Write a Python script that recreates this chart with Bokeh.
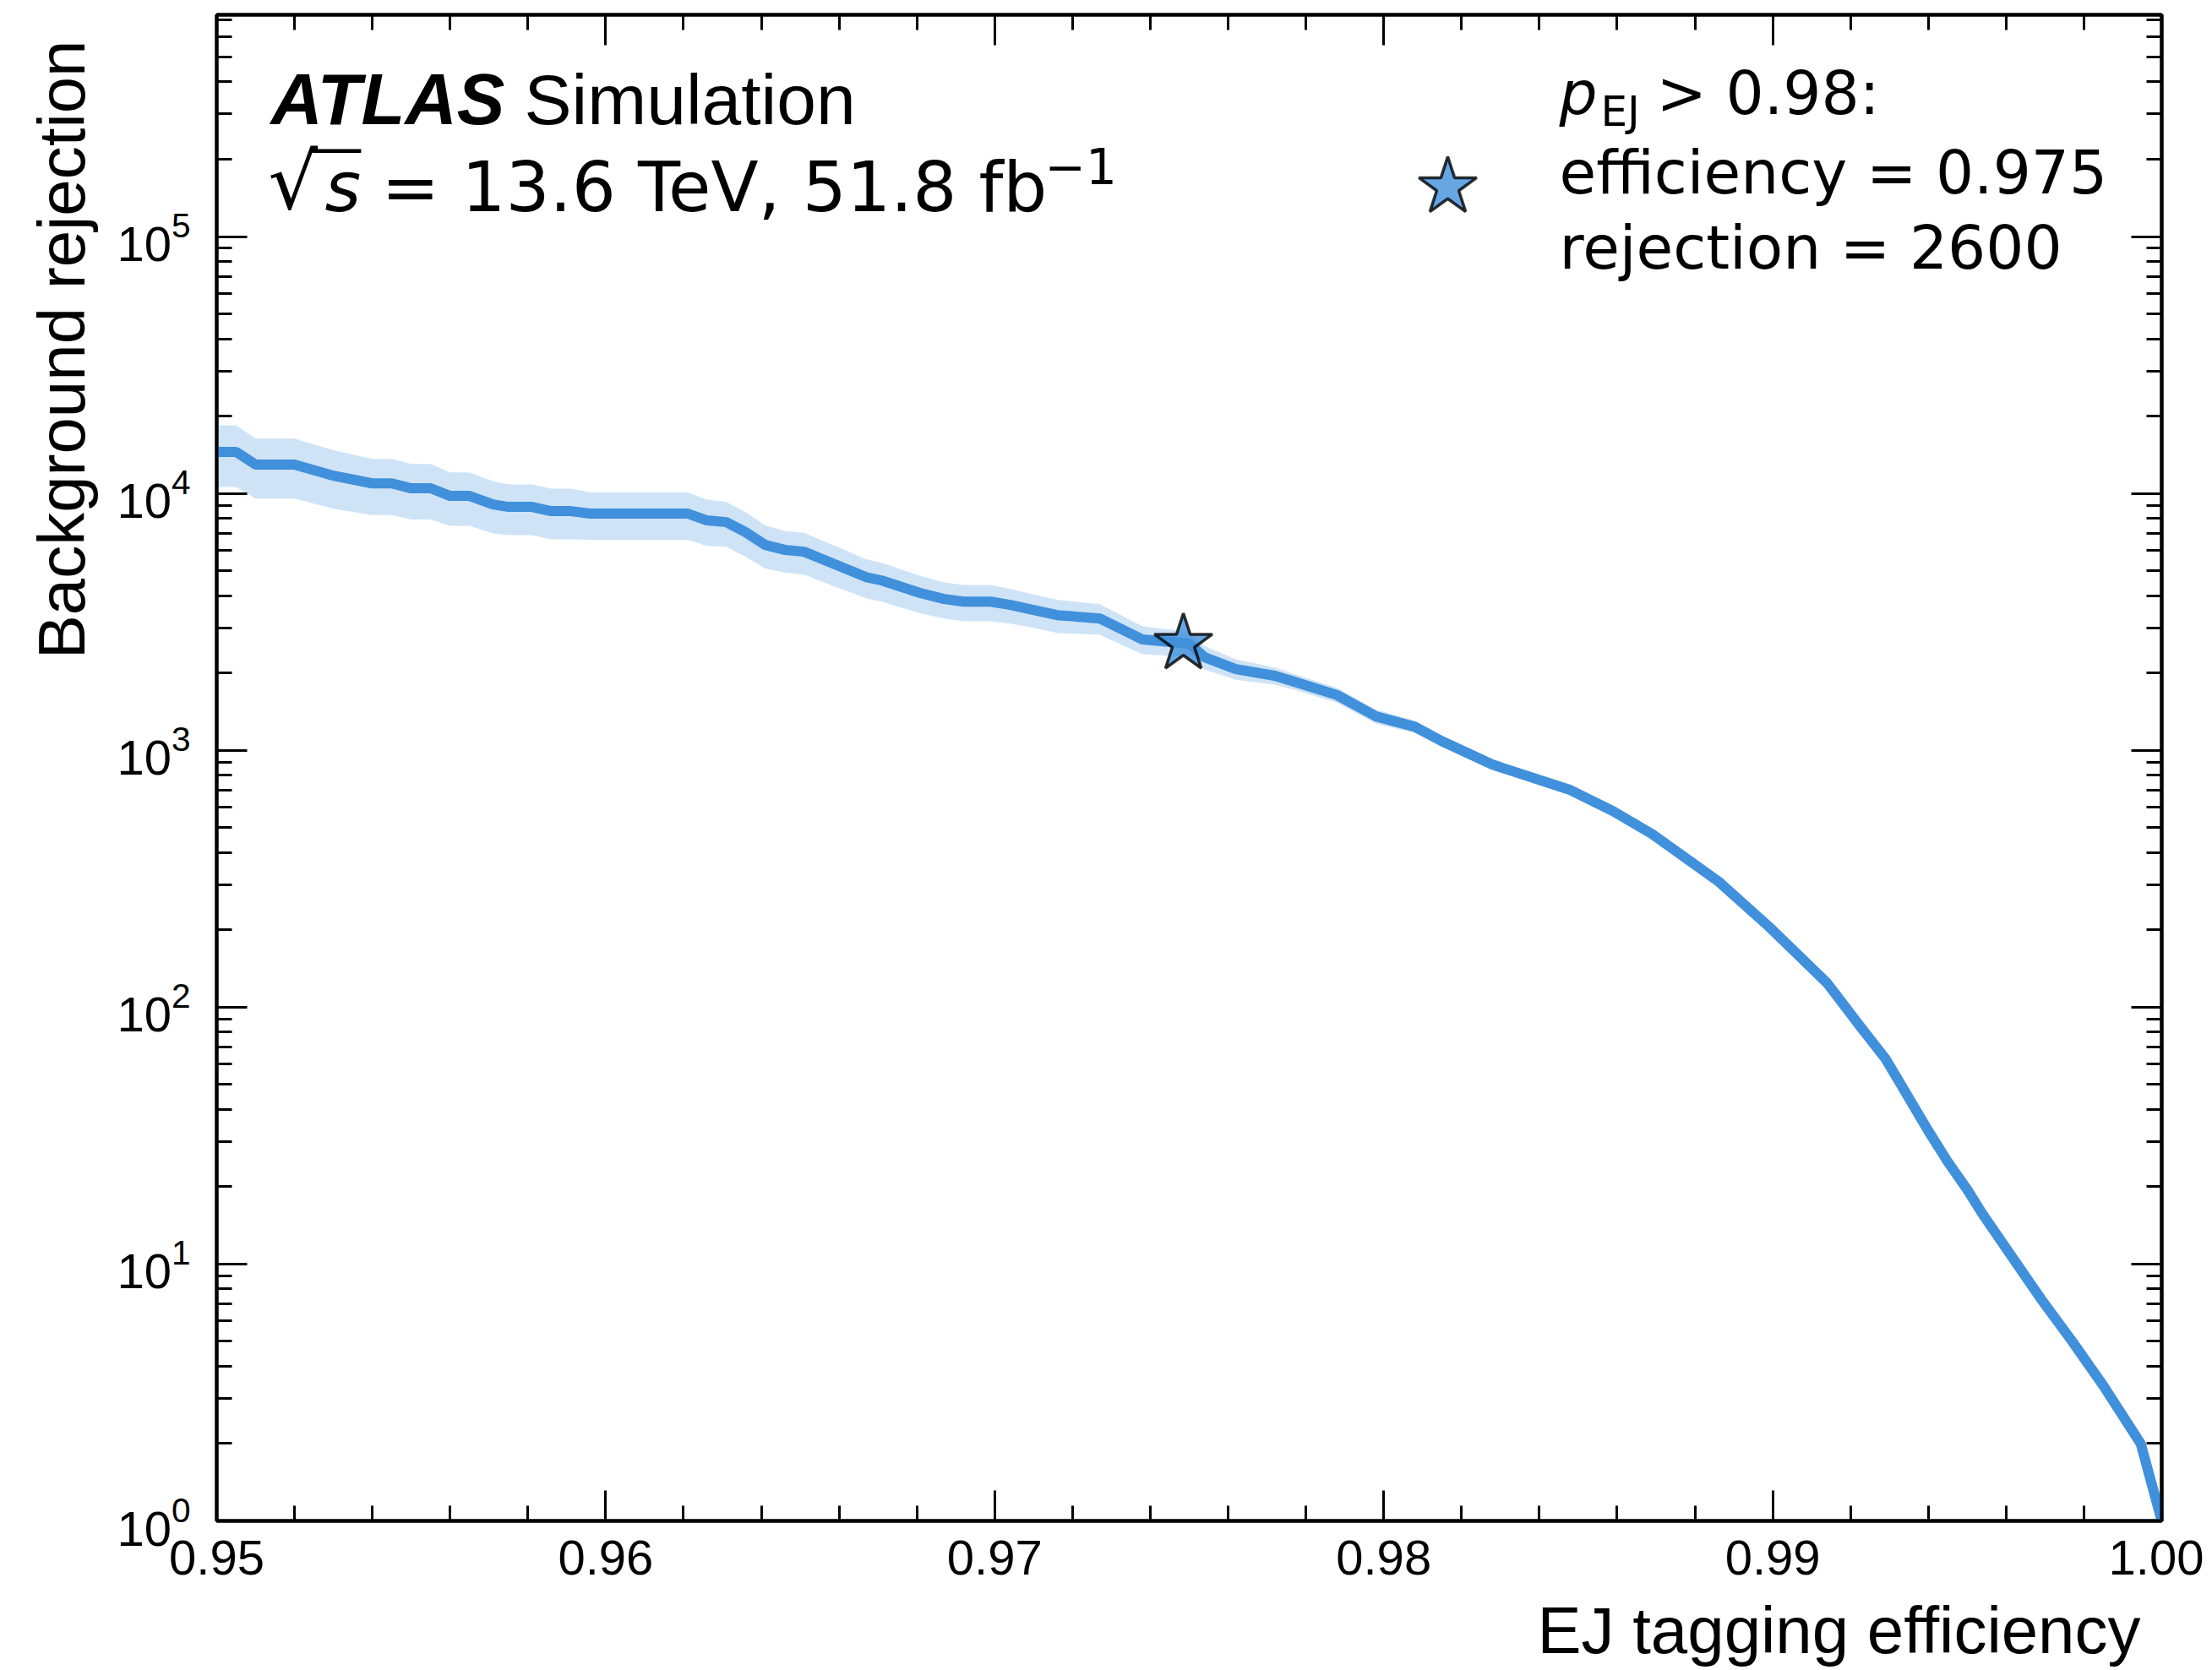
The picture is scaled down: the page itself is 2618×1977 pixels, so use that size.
from bokeh.plotting import figure
from bokeh.models import (FixedTicker, LinearAxis, LogAxis, Label, Legend, LegendItem,
                          Range1d, LogTickFormatter, PrintfTickFormatter, CustomJSTickFormatter)
from bokeh.embed import file_html
from bokeh.resources import INLINE

# ---------------- data ----------------
efficiency = [0.9500, 0.9505, 0.9510, 0.9520, 0.9530, 0.9540, 0.9545, 0.9550, 0.9555,
              0.9560, 0.9565, 0.9571, 0.9575, 0.9581, 0.9586, 0.9591, 0.9596, 0.9621,
              0.9626, 0.9631, 0.9636, 0.9641, 0.9646, 0.9651, 0.9661, 0.9667, 0.9671,
              0.9681, 0.9687, 0.9692, 0.9699, 0.9704, 0.9710, 0.9716, 0.9727, 0.9738,
              0.9750, 0.9754, 0.9762, 0.9772, 0.9777, 0.9788, 0.9798, 0.9808, 0.9815,
              0.9828, 0.9848, 0.9859, 0.9869, 0.9886, 0.9899, 0.9914, 0.9922, 0.9929,
              0.9940, 0.9945, 0.9950, 0.9954, 0.9969, 0.9977, 0.9985, 0.99946, 1.0000]
rejection = [14500, 14500, 12940, 12940, 11720, 10940, 10940, 10470, 10470,
             9780, 9780, 9060, 8860, 8860, 8530, 8530, 8350, 8350,
             7850, 7730, 7060, 6300, 6030, 5930, 5140, 4720, 4580,
             4090, 3880, 3790, 3790, 3680, 3520, 3360, 3260, 2700,
             2600, 2300, 2070, 1950, 1850, 1640, 1355, 1235, 1085,
             879, 700, 579, 472, 309, 206, 124, 86, 63,
             33, 25, 19.5, 15.6, 7.3, 5.0, 3.36, 2.0, 1.0]
rejection_err = [3900, 3900, 3400, 3400, 3000, 2700, 2700, 2550, 2550,
                 2300, 2300, 2080, 1980, 1980, 1900, 1900, 1750, 1750,
                 1600, 1530, 1400, 1200, 1110, 1100, 925, 815, 790,
                 680, 620, 610, 610, 570, 520, 495, 445, 335,
                 290, 240, 190, 150, 130, 110, 85, 68, 52,
                 38, 26, 21, 17, 11, 7, 4.6, 3.0, 2.3,
                 1.2, 0.9, 0.7, 0.6, 0.25, 0.18, 0.12, 0.06, 0.04]

wp_efficiency = [0.97485]
wp_rejection = [2600]

x_major_ticks = [0.95, 0.96, 0.97, 0.98, 0.99, 1.00]
x_minor_ticks = [0.952, 0.954, 0.956, 0.958, 0.962, 0.964, 0.966, 0.968,
                 0.972, 0.974, 0.976, 0.978, 0.982, 0.984, 0.986, 0.988,
                 0.992, 0.994, 0.996, 0.998]
y_major_ticks = [1, 10, 100, 1000, 10000, 100000]
y_minor_ticks = [2, 3, 4, 5, 6, 7, 8, 9,
                 20, 30, 40, 50, 60, 70, 80, 90,
                 200, 300, 400, 500, 600, 700, 800, 900,
                 2000, 3000, 4000, 5000, 6000, 7000, 8000, 9000,
                 20000, 30000, 40000, 50000, 60000, 70000, 80000, 90000,
                 200000, 300000, 400000, 500000, 600000, 700000]

X_RANGE = (0.95, 1.0)
Y_RANGE = (1.0, 7.3e5)

LINE = "#4090dc"
FONT = "Liberation Sans"
MATH = "DejaVu Sans"

# ---------------- figure ----------------
FL, FT, FR, FB = 256, 17, 2558, 1800   # frame edges on the page
W, H = 2608, 1975
p = figure(width=W, height=H, x_range=Range1d(*X_RANGE), y_range=Range1d(*Y_RANGE),
           y_axis_type="log", output_backend="svg", toolbar_location=None,
           min_border_left=FL, min_border_top=FT, min_border_right=W - FR,
           min_border_bottom=H - FB)
p.background_fill_color = "white"
p.border_fill_color = "white"
p.outline_line_color = "black"
p.outline_line_width = 4
p.xgrid.visible = False
p.ygrid.visible = False

band_lo = [r - e for r, e in zip(rejection, rejection_err)]
band_hi = [r + e for r, e in zip(rejection, rejection_err)]
p.varea(x=efficiency, y1=band_lo, y2=band_hi, fill_color=LINE, fill_alpha=0.25)
p.line(efficiency, rejection, line_color=LINE, line_width=12)
star = p.scatter(wp_efficiency, wp_rejection, marker="star", size=72,
                 fill_color=LINE, fill_alpha=0.8, line_color="black", line_alpha=0.8,
                 line_width=3.5)


def style_axis(ax):
    ax.axis_line_color = "black"
    ax.axis_line_width = 4
    ax.major_tick_in = 36
    ax.major_tick_out = 0
    ax.minor_tick_in = 18
    ax.minor_tick_out = 0
    ax.major_tick_line_width = 3
    ax.minor_tick_line_width = 3
    ax.major_tick_line_color = "black"
    ax.minor_tick_line_color = "black"
    ax.major_label_text_font = FONT
    ax.major_label_text_color = "black"
    ax.major_label_text_font_size = "58px"


xt = FixedTicker(ticks=x_major_ticks, minor_ticks=x_minor_ticks)
yt = FixedTicker(ticks=y_major_ticks, minor_ticks=y_minor_ticks)

xax = p.xaxis[0]
yax = p.yaxis[0]
xax.ticker = xt
xax.formatter = PrintfTickFormatter(format="%.2f")
yax.ticker = yt
yax.formatter = LogTickFormatter()
style_axis(xax)
style_axis(yax)
xax.major_label_standoff = 23
yax.major_label_standoff = 31

blank = CustomJSTickFormatter(code="return ''")
top_ax = LinearAxis(ticker=xt, formatter=blank)
style_axis(top_ax)
top_ax.major_label_standoff = 0
p.add_layout(top_ax, "above")
right_ax = LogAxis(ticker=yt, formatter=blank)
style_axis(right_ax)
right_ax.major_label_standoff = 0
p.add_layout(right_ax, "right")

BASE_SHIFT = 0.35  # measured: label anchor sits this fraction of the size above the baseline


def make_label(text, px, py, size, font=FONT, style="normal", align="left"):
    anchor_y = py - BASE_SHIFT * size
    return Label(x=X_RANGE[0], y=Y_RANGE[1], x_offset=px - FL, y_offset=-(anchor_y - FT),
                 text=text, text_font=font, text_font_size=f"{size}px",
                 text_font_style=style, text_align=align, text_baseline="alphabetic",
                 text_color="black")


def add_text(*args, **kw):
    p.add_layout(make_label(*args, **kw))


# axis titles: placed in the side panels so they are not clipped to the frame
XL_SIZE = 78
xlabel = Label(x=X_RANGE[1], y=Y_RANGE[0], x_offset=2533 - FR,
               y_offset=-(1957 - BASE_SHIFT * XL_SIZE - FB),
               text="EJ tagging efficiency", text_font=FONT, text_font_size=f"{XL_SIZE}px",
               text_align="right", text_baseline="alphabetic", text_color="black")
p.add_layout(xlabel, "below")
ylabel = Label(x=X_RANGE[0], y=Y_RANGE[1], x_offset=(100 - BASE_SHIFT * XL_SIZE) - FL,
               y_offset=-(47 - FT), angle=1.5707963,
               text="Background rejection", text_font=FONT, text_font_size=f"{XL_SIZE}px",
               text_align="right", text_baseline="alphabetic", text_color="black")
p.add_layout(ylabel, "left")

# ATLAS label
add_text("ATLAS", 320, 147, 85, style="bold italic")
add_text("Simulation", 620, 147, 84)
add_text("\u221a", 317, 247, 92, font=MATH)
add_text("\u2014", 366, 196, 64, font=MATH)
add_text("s", 384, 250, 82, font=MATH, style="italic")
add_text("= 13.6 TeV, 51.8 fb", 451, 250, 82, font=MATH)
add_text("\u22121", 1236, 216, 58, font=MATH)

# working point legend
legend = Legend(items=[LegendItem(label="", renderers=[star])],
                location=(1623 - FL, FB - 311), glyph_width=180, glyph_height=180,
                padding=0, margin=0, spacing=0, label_standoff=0, label_width=1,
                label_height=1, label_text_font_size="10px", border_line_color=None,
                background_fill_alpha=0)
p.add_layout(legend)

add_text("p", 1845, 135, 71, font=MATH, style="italic")
add_text("EJ", 1894, 149, 50, font=MATH)
add_text("> 0.98:", 1960, 135, 71, font=MATH)
add_text("efficiency = 0.975", 1845, 229, 71, font=MATH)
add_text("rejection = 2600", 1845, 318, 71, font=MATH)

open("out.html", "w").write(file_html(p, INLINE))
